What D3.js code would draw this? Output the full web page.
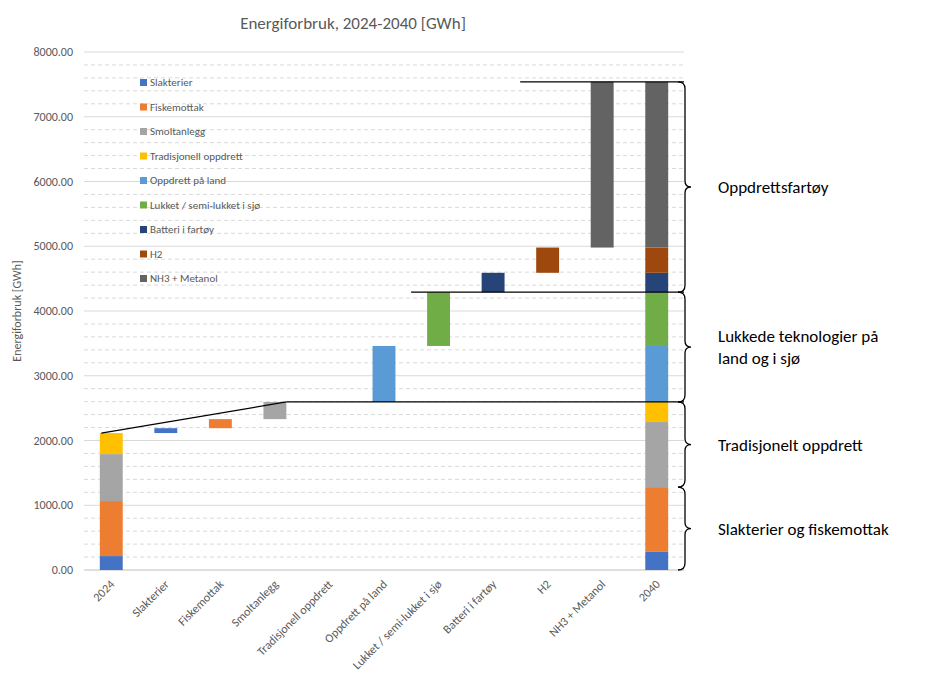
<!DOCTYPE html>
<html><head><meta charset="utf-8">
<script src="https://cdn.jsdelivr.net/npm/d3@7"></script>
<style>body{margin:0;background:#fff;font-family:Calibri,Carlito,"Liberation Sans",Arial,sans-serif}</style>
</head><body><svg></svg>
<script>
let width = 931, height = 691;
let categories = ["2024","Slakterier","Fiskemottak","Smoltanlegg","Tradisjonell oppdrett","Oppdrett på land","Lukket / semi-lukket i sjø","Batteri i fartøy","H2","NH3 + Metanol","2040"];
let series = ["Slakterier","Fiskemottak","Smoltanlegg","Tradisjonell oppdrett","Oppdrett på land","Lukket / semi-lukket i sjø","Batteri i fartøy","H2","NH3 + Metanol"];
let colors = ["#4472C4","#ED7D31","#A5A5A5","#FFC000","#5B9BD5","#70AD47","#264478","#9E480E","#636363"];
let start2024 = [215, 850, 725, 325, 0, 0, 0, 0, 0];
let changes = [75, 140, 265, 0, 865, 830, 300, 390, 2560];
let end2040 = [280, 1000, 1005, 310, 865, 830, 300, 390, 2560];
let yTicks = [0,1000,2000,3000,4000,5000,6000,7000,8000];
let groups = [
  {label:["Slakterier og fiskemottak"], from:0, to:1280},
  {label:["Tradisjonelt oppdrett"], from:1280, to:2595},
  {label:["Lukkede teknologier på","land og i sjø"], from:2595, to:4290},
  {label:["Oppdrettsfartøy"], from:4290, to:7540}
];

let svg = d3.select("svg").attr("width", width).attr("height", height);
let x = d3.scaleBand().domain(categories).range([84, 684]).paddingInner(0.58).paddingOuter(0.29);
let y = d3.scaleLinear().domain([0, 8000]).range([570, 52]);

// grid
svg.append("g").selectAll("line").data(d3.range(200, 8000, 200).filter(v => v % 1000))
  .join("line").attr("x1", 84).attr("x2", 684).attr("y1", d => y(d)).attr("y2", d => y(d))
  .attr("stroke", "#d9d9d9").attr("stroke-dasharray", "4,3");
svg.append("g").selectAll("line").data(yTicks.slice(1))
  .join("line").attr("x1", 84).attr("x2", 684).attr("y1", d => y(d)).attr("y2", d => y(d))
  .attr("stroke", "#d9d9d9");
svg.append("line").attr("x1", 84).attr("x2", 684).attr("y1", y(0)).attr("y2", y(0)).attr("stroke", "#bfbfbf");

svg.append("g").selectAll("text").data(yTicks).join("text")
  .attr("x", 73).attr("y", d => y(d) + 4).attr("text-anchor", "end")
  .attr("font-size", 12).attr("fill", "#595959").text(d => d3.format(".2f")(d));

// bars
function stack(vals, cat, base) {
  let acc = base;
  vals.forEach((v, i) => {
    if (!v) return;
    svg.append("rect").attr("x", x(cat)).attr("width", x.bandwidth())
      .attr("y", y(acc + v)).attr("height", y(acc) - y(acc + v)).attr("fill", colors[i]);
    acc += v;
  });
  return acc;
}
let top2024 = stack(start2024, "2024", 0);
let running = top2024, tops = [];
changes.forEach((v, i) => {
  let vals = series.map((s, j) => j === i ? v : 0);
  stack(vals, categories[i + 1], running);
  running += v; tops.push(running);
});
stack(end2040, "2040", 0);

// connector lines
let cx = c => x(c) + x.bandwidth() / 2;
svg.append("line").attr("x1", cx("2024") - 10).attr("y1", y(top2024)).attr("x2", x("Smoltanlegg") + x.bandwidth()).attr("y2", y(tops[2])).attr("stroke", "#000").attr("stroke-width", 1.3);
[[x("Smoltanlegg") + x.bandwidth(), tops[2]], [x("Lukket / semi-lukket i sjø") - 16, tops[5]], [x("H2") - 16, tops[8]]].forEach(([x0, v]) => {
  svg.append("line").attr("x1", x0).attr("x2", 684).attr("y1", y(v)).attr("y2", y(v)).attr("stroke", "#000").attr("stroke-width", 1.3);
});

// braces
groups.forEach(g => {
  let y0 = y(g.to), y1 = y(g.from), ym = (y0 + y1) / 2, bx = 678;
  svg.append("path").attr("fill", "none").attr("stroke", "#000").attr("stroke-width", 1.3)
    .attr("d", `M${bx},${y0} Q${bx+7},${y0} ${bx+7},${y0+7} L${bx+7},${ym-6} Q${bx+7},${ym} ${bx+13},${ym} Q${bx+7},${ym} ${bx+7},${ym+6} L${bx+7},${y1-7} Q${bx+7},${y1} ${bx},${y1}`);
  let t = svg.append("text").attr("x", 718).attr("font-size", 17).attr("fill", "#000");
  g.label.forEach((l, i) => t.append("tspan").attr("x", 718)
    .attr("y", ym + 6 + (i - (g.label.length - 1) / 2) * 22).text(l));
});

// x labels
svg.append("g").selectAll("text").data(categories).join("text")
  .attr("transform", d => `translate(${cx(d) + 4},${585}) rotate(-45)`)
  .attr("text-anchor", "end").attr("font-size", 12).attr("fill", "#595959").text(d => d);

// legend
let lg = svg.append("g").selectAll("g").data(series).join("g")
  .attr("transform", (d, i) => `translate(140,${82 + i * 24.5})`);
lg.append("rect").attr("width", 7).attr("height", 7).attr("y", -3).attr("fill", (d, i) => colors[i]);
lg.append("text").attr("x", 10).attr("y", 4).attr("font-size", 11).attr("fill", "#595959").text(d => d);

svg.append("text").attr("x", 353).attr("y", 29).attr("text-anchor", "middle")
  .attr("font-size", 17).attr("fill", "#595959").text("Energiforbruk, 2024-2040 [GWh]");
svg.append("text").attr("transform", "translate(21,311) rotate(-90)").attr("text-anchor", "middle")
  .attr("font-size", 12).attr("fill", "#595959").text("Energiforbruk [GWh]");
</script></body></html>
